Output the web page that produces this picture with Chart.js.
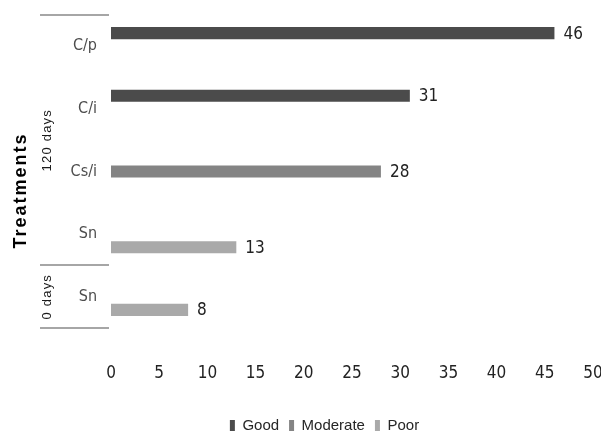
<!DOCTYPE html>
<html>
<head>
<meta charset="utf-8">
<script src="https://cdn.jsdelivr.net/npm/chart.js@4.4.1/dist/chart.umd.min.js"></script>
<style>
  html, body { margin: 0; padding: 0; background: #ffffff; }
  #wrap { width: 601px; height: 434px; position: relative; }
</style>
</head>
<body>
<div id="wrap"><canvas id="chart"></canvas></div>
<script>
// Treatments (top to bottom) and the sampling period each belongs to
const treatments = ['C/p', 'C/i', 'Cs/i', 'Sn', 'Sn'];
const periods = ['120 days', '120 days', '120 days', '120 days', '0 days'];

// Scores per rating class (null where the class does not apply)
const good     = [46, 31, null, null, null];
const moderate = [null, null, 28, null, null];
const poor     = [null, null, null, 13, 8];

// Value axis ticks
const xTickValues = [0, 5, 10, 15, 20, 25, 30, 35, 40, 45, 50];

const narrowFamily = "'DejaVu Sans Condensed', 'DejaVu Sans', sans-serif";
const sansFont = "'Liberation Sans', Arial, sans-serif";

// Writes the value next to the end of each bar
const valueLabels = {
  id: 'valueLabels',
  afterDatasetsDraw(chart) {
    const ctx = chart.ctx;
    ctx.save();
    ctx.font = 'condensed 17px ' + narrowFamily;
    ctx.fillStyle = '#222222';
    ctx.textAlign = 'left';
    ctx.textBaseline = 'middle';
    chart.data.datasets.forEach((ds, di) => {
      const meta = chart.getDatasetMeta(di);
      meta.data.forEach((bar, i) => {
        const v = ds.data[i];
        if (v === null || v === undefined) return;
        ctx.fillText(String(v), bar.x + 9, bar.y + 1);
      });
    });
    ctx.restore();
  }
};

// Legend sits a little right of the page centre
const legendShift = {
  id: 'legendShift',
  afterLayout(chart) {
    const lg = chart.legend;
    if (!lg) return;
    lg.left += 28;
    lg.right += 28;
  }
};

// Draws the period brackets, period names and the axis title on the left
const periodGroups = {
  id: 'periodGroups',
  afterDraw(chart) {
    const ctx = chart.ctx;
    const y = chart.scales.y;
    const area = chart.chartArea;
    const x0 = 40, x1 = 109;

    const groups = [];
    let start = 0;
    for (let i = 1; i <= periods.length; i++) {
      if (i === periods.length || periods[i] !== periods[start]) {
        groups.push({ name: periods[start], from: start, to: i - 1 });
        start = i;
      }
    }

    ctx.save();
    ctx.strokeStyle = '#a6a6a6';
    ctx.lineWidth = 2;
    const edges = [-0.5].concat(groups.map(g => g.to + 0.5));
    edges.forEach(e => {
      const py = Math.round(y.getPixelForValue(e));
      ctx.beginPath();
      ctx.moveTo(x0, py);
      ctx.lineTo(x1, py);
      ctx.stroke();
    });

    ctx.fillStyle = '#1a1a1a';
    ctx.font = '13px ' + sansFont;
    ctx.textAlign = 'center';
    ctx.textBaseline = 'middle';
    groups.forEach(g => {
      const top = y.getPixelForValue(g.from - 0.5);
      const bot = y.getPixelForValue(g.to + 0.5);
      ctx.save();
      ctx.translate(47, (top + bot) / 2);
      ctx.rotate(-Math.PI / 2);
      ctx.letterSpacing = '1.2px';
      ctx.fillText(g.name, 0, 0);
      ctx.restore();
    });

    // axis title
    ctx.save();
    ctx.font = 'bold 18px ' + sansFont;
    ctx.fillStyle = '#000000';
    ctx.letterSpacing = '2px';
    ctx.translate(21, (area.top + area.bottom) / 2 + 19);
    ctx.rotate(-Math.PI / 2);
    ctx.fillText('Treatments', 0, 0);
    ctx.restore();

    ctx.restore();
  }
};

new Chart(document.getElementById('chart'), {
  type: 'bar',
  data: {
    labels: treatments,
    datasets: [
      { label: 'Good',     data: good,     backgroundColor: '#4b4b4b' },
      { label: 'Moderate', data: moderate, backgroundColor: '#848484' },
      { label: 'Poor',     data: poor,     backgroundColor: '#a9a9a9' }
    ]
  },
  options: {
    indexAxis: 'y',
    responsive: true,
    maintainAspectRatio: false,
    animation: false,
    categoryPercentage: 0.63,
    barPercentage: 0.92,
    layout: { padding: { top: 15, right: 8, left: 0, bottom: -9 } },
    plugins: {
      legend: {
        position: 'bottom',
        labels: {
          boxWidth: 5,
          boxHeight: 11,
          padding: 10,
          color: '#262626',
          font: { family: sansFont, size: 15 }
        }
      },
      tooltip: { enabled: false }
    },
    scales: {
      x: {
        min: xTickValues[0],
        max: xTickValues[xTickValues.length - 1],
        afterBuildTicks(scale) {
          scale.ticks = xTickValues.map(v => ({ value: v }));
        },
        afterFit(scale) {
          scale.height = 80;
          scale.paddingLeft = 0;
          scale.paddingRight = 8;
        },
        grid: { display: false, drawTicks: false },
        border: { display: false },
        ticks: {
          padding: 35,
          color: '#222222',
          font: { family: narrowFamily, weight: 'condensed', size: 17 }
        }
      },
      y: {
        afterFit(scale) {
          scale.width = 111;
          scale.paddingTop = 0;
          scale.paddingBottom = 0;
        },
        grid: { display: false, drawTicks: false },
        border: { display: false },
        ticks: {
          padding: 14,
          color: '#4d4d4d',
          font: { family: narrowFamily, weight: 'condensed', size: 16 }
        }
      }
    }
  },
  plugins: [valueLabels, periodGroups, legendShift]
});
</script>
</body>
</html>
